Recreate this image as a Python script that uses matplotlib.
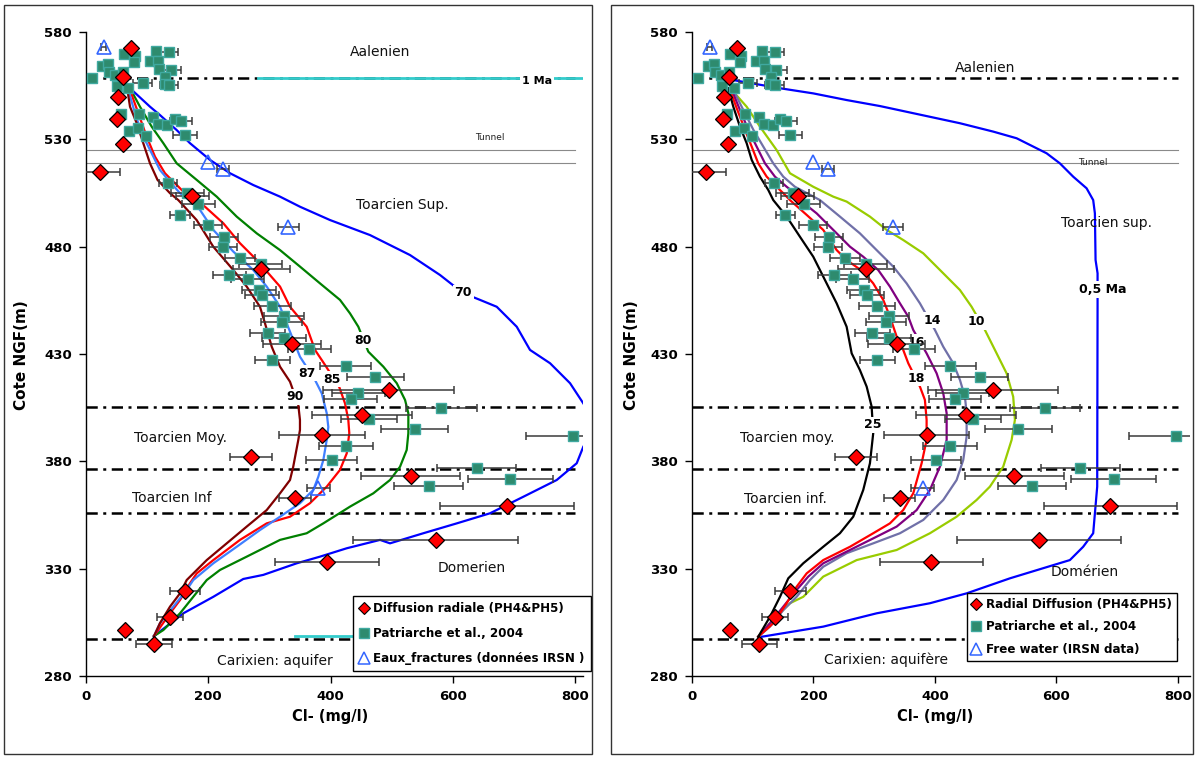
import matplotlib
matplotlib.use('Agg')
import matplotlib.pyplot as plt
from matplotlib.patches import Rectangle
from matplotlib.lines import Line2D

plt.rcParams['font.family'] = ['DejaVu Sans']

# ---------------- data (shared measurements) ----------------
diam_x = [74, 61, 53, 51, 60, 23, 174, 287, 337, 495, 451, 386.5, 270, 531, 342, 689, 572, 394, 162, 137, 63, 111]
diam_y = [572.5, 559, 549.5, 539.3, 527.8, 515, 503.5, 469.8, 434.7, 413, 401.7, 392.2, 382.2, 373, 363.1, 359.1, 343.2, 333.3, 319.7, 307.4, 301.4, 294.8]
diam_err = [0, 0, 0, 0, 0, 33, 27, 46, 47, 107, 82, 70, 34, 81, 26, 110, 135, 85, 25, 21, 0, 29]

sq_x = [10.5, 26, 36, 38, 48, 50, 61, 62, 69, 80, 78.5, 92.7, 105, 114.5, 118, 119.5, 136, 139, 130, 129, 136,
        58, 87, 110, 118.5, 133, 145, 155, 162, 70, 85.6, 98,
        134.5, 165.7, 183.7, 153.8, 200, 226, 224.6, 252, 286, 234, 264.5, 283, 287.4, 305, 324.4, 320, 297,
        324.4, 365.6, 305, 425, 473.5, 445.5, 432.7, 581, 462.5, 537.5, 797, 425, 401.6, 639, 694.4, 560.4]
sq_y = [558.4, 564, 565, 561.3, 560, 555, 561.5, 569.6, 553.7, 568.8, 565.9, 556.3, 566.6, 571, 566.6, 562.6, 570.8, 562.3, 559.2, 555.6, 555.5,
        542, 542, 540.6, 537, 536.7, 539.5, 538.6, 532.2, 534, 535.4, 531.5,
        509.6, 505, 500, 494.8, 490, 484.6, 480, 474.6, 471.8, 467, 465, 459.8, 457.5, 452.4, 447.7, 445, 440,
        437.3, 432.2, 427.2, 424.4, 419.5, 412, 409.2, 404.8, 399.5, 394.9, 391.9, 387, 380.8, 376.7, 372, 368.7]
sq_err = [0, 0, 0, 0, 0, 0, 0, 0, 0, 0, 0, 15, 0, 0, 0, 0, 15, 17, 0, 0, 15,
          0, 0, 0, 0, 0, 0, 18, 19, 0, 0, 0,
          15, 27, 27, 16, 23, 23, 23, 25, 35, 27, 27, 27, 28, 30, 33, 33, 29,
          36, 35, 29, 42, 47, 43, 43, 58, 46, 55, 77, 44, 41, 65, 70, 56]

tri_x = [29, 199, 224.5, 331, 380]
tri_y = [573, 519.4, 516.4, 489.3, 367.5]
tri_err = [4, 0, 10, 17, 19]

# horizontal markers
layer_bounds = [558.5, 405.2, 376.4, 356.1, 297.4]
tunnel_levels = [524.8, 519.2]

# ---------------- left panel curves ----------------
c90_x = [67, 72, 83, 93.7, 104.7, 117, 137.4, 151, 181, 208.2, 241, 262.9, 284.6, 292.8, 303.8, 317.4, 333.7, 347.3, 350, 350,
         347.3, 339, 333.7, 317.4, 295.6, 262.9, 230.2, 197.5, 164.7, 153.8, 137.4, 121, 111.2]
c90_y = [554.4, 545.2, 537.5, 528.2, 518.8, 511.1, 504.9, 501.7, 492.4, 480, 469.1, 461.4, 452, 444.3, 433.4, 424.1, 417.1, 406.2, 399.3, 394.6,
         390, 377.5, 371.3, 365.1, 357.3, 349.6, 341.8, 334, 324.7, 318.5, 312.3, 304.6, 298.6]

c87_x = [69.2, 80.2, 91.1, 107.5, 121, 134.6, 153.8, 170.1, 186.5, 208.3, 241, 273.7, 295.6, 317.4, 328.3, 339.1, 350.1, 374.6, 385.6, 393.8,
         396.4, 393.8, 388.2, 380, 371.8, 350.1, 317.4, 284.6, 246.5, 208.3, 175.5, 164.7, 142.8, 121, 111.2]
c87_y = [553, 542.1, 532.8, 523.5, 515.7, 511.1, 504.9, 501.7, 497.1, 487.8, 477.7, 469.1, 461.4, 452, 444.3, 436.5, 428.7, 417.9, 411.7, 402.4,
         396, 390, 380.6, 372.8, 366.7, 360.5, 354.2, 348, 340.2, 332.5, 324.7, 320.1, 312.3, 304.6, 298.6]

c85_x = [72, 85.6, 99.3, 112.9, 129.2, 145.6, 162, 194.7, 224.6, 251.9, 279.3, 317.4, 333.7, 361, 374.6, 391, 414.4, 423.7, 429.1, 430.7,
         426.5, 415.5, 393.8, 366.4, 333.7, 295.6, 251.9, 208.3, 181.1, 170.1, 153.8, 137.4, 111.2]
c85_y = [553, 542.1, 531.2, 521.9, 514.2, 509.5, 504.9, 498.6, 490.9, 481.6, 473.8, 461.4, 452, 442.7, 431.9, 424.9, 414.5, 407, 399.3, 393.1,
         383.7, 376, 368.2, 360.5, 354.2, 351.1, 343.4, 334, 327.8, 323.2, 315.4, 309.2, 298.6]

c80_x = [72, 88.3, 107.5, 126.5, 148.4, 181.1, 213.8, 246.5, 279.3, 317.4, 350.1, 382.8, 415.5, 431.9, 445.5, 461.8, 486.4, 508.3, 521.9, 527.3,
         527.3, 524.6, 513.7, 497.3, 470, 431.9, 388.2, 361, 317.4, 262.9, 219.2, 197.5, 175.5, 153.8, 126.5, 111.2]
c80_y = [553.8, 545.2, 535.9, 528.2, 518.8, 511.1, 503.3, 494, 486.2, 478.4, 470.7, 462.9, 455.2, 448.9, 442.7, 431.1, 424.1, 416.4, 408.6, 402.4,
         393.1, 385.3, 377.5, 371.3, 365.1, 358.9, 351.1, 346.5, 343.4, 335.6, 329.4, 324.7, 316.9, 309.2, 301.4, 298.6]

c70_x = [72, 104.7, 121, 148.4, 170.1, 202.9, 235.6, 273.7, 317.4, 350.1, 399.2, 464.6, 530, 579.1, 616.7, 644.6, 671.9, 704.6, 726.3, 759.1,
         791.8, 813.5, 835, 813.5, 802.7, 770, 715.4, 660.9, 606.5, 551.8, 497.3, 481, 426.5, 382.8, 344.7, 290, 257.3, 208.3, 159.2, 111.2]
c70_y = [553.8, 545.2, 541.3, 534.3, 528.2, 520.4, 514.2, 508.7, 503.3, 498.6, 492.4, 485.4, 476.1, 466.8, 458.4, 455.2, 452, 442.7, 431.9, 425.7,
         416.4, 407, 397, 386.8, 379.1, 371.3, 363.5, 355.8, 351.1, 346.5, 341.8, 343.4, 339.5, 335.6, 332.5, 327.1, 325.2, 316.9, 309.2, 298.6]

ma1_x = [281, 840, 840, 342]
ma1_y = [558.6, 558.6, 298.6, 298.6]

# ---------------- right panel curves ----------------
c25_x = [59.8, 68, 79, 90, 98.3, 111.9, 125.6, 133.8, 155.9, 177.8, 199.7, 221.7, 238.2, 254.6, 262.9, 276.5, 287.6, 295.8, 298.4,
         293, 282, 265.5, 243.6, 216.1, 183.2, 158.5, 144.9, 128.4, 109.1]
c25_y = [553.8, 545.2, 535.9, 528.2, 520.4, 512.6, 506.4, 501.7, 494, 484.6, 475.3, 462.9, 453.6, 442.7, 430.3, 422.5, 414.8, 405.5, 393.1,
         379.1, 366.7, 354.2, 346.5, 340.2, 332.5, 325.5, 316.9, 307.6, 298.3]

c18_x = [62.6, 73.6, 87.2, 98.3, 109.1, 123, 139.4, 153.1, 161.3, 188.8, 216.1, 238.2, 254.6, 282, 298.4, 314.9, 325.9, 337, 347.8, 356.1,
         375.3, 383.5, 386.3, 386.3, 378.1, 364.3, 347.8, 325.9, 298.4, 260.1, 216.1, 188.8, 172.3, 155.9, 133.8, 109.1]
c18_y = [553, 544.5, 534.5, 526.6, 518.8, 512.6, 507.9, 504.1, 501.7, 494.8, 487.8, 478.4, 473.8, 468.3, 462.9, 455.2, 447.4, 438.1, 431.9, 425.7,
         414.8, 408.6, 399.3, 390, 379.1, 365.1, 357.3, 351.1, 346.5, 340.2, 334, 327.8, 321.6, 313.9, 304.6, 298.3]

c16_x = [65.4, 79, 92.7, 106.5, 120.2, 136.6, 155.9, 169.5, 177.8, 205.3, 232.6, 260.1, 282, 306.7, 325.9, 342.4, 356.1, 364.3, 386.3, 402.8,
         413.7, 419.3, 419.3, 408.2, 391.8, 369.9, 337, 304, 260.1, 216.1, 191.4, 172.3, 150.3, 128.4, 109.1]
c16_y = [553, 543.7, 534.5, 526.6, 518.8, 512.6, 507.9, 504.9, 501.7, 495.5, 487.8, 480, 475.3, 469.1, 461.4, 453.6, 447.4, 441.2, 430.3, 421,
         411.7, 402.4, 390, 377.5, 366.7, 357.3, 349.6, 344.9, 338.7, 332.5, 326.3, 320.1, 312.3, 304.6, 298.3]

c14_x = [68, 84.4, 100.9, 117.4, 133.8, 150.3, 169.5, 210.7, 243.6, 276.5, 304, 331.4, 353.4, 375.3, 400, 413.7, 430.1, 441.2, 449.4, 452.2,
         452.2, 446.6, 435.7, 413.7, 380.8, 342.4, 298.4, 254.6, 216.1, 194.2, 172.3, 150.3, 128.4, 109.1]
c14_y = [553, 543.7, 534.5, 526.6, 518.8, 512.6, 507.9, 501.7, 494, 486.2, 478.4, 470.7, 462.9, 453.6, 441.2, 433.4, 425.7, 417.9, 410.1, 402.4,
         391.5, 380.6, 371.3, 362, 352.7, 346.5, 341.8, 337.2, 330.9, 324.7, 316.9, 310.7, 303, 298.3]

c10_x = [68, 90, 111.9, 139.4, 161.3, 199.7, 232.6, 254.6, 293, 320.5, 347.8, 380.8, 413.7, 441.2, 460.4, 482.3, 501.6, 518, 528.9, 531.7,
         526.3, 512.4, 490.5, 468.6, 435.7, 391.8, 337, 271.1, 216.1, 183.2, 161.3, 128.4, 109.1]
c10_y = [552.2, 545.2, 535.9, 525, 514.2, 507.9, 503.3, 501, 494, 487.8, 483.1, 476.9, 467.6, 459.8, 452, 441.2, 430.3, 421, 410.1, 399.3,
         390, 377.5, 368.2, 362, 354.2, 346.5, 338.7, 334, 326.3, 316.9, 313.9, 304.6, 298.3]

ma05_x = [60, 68, 144.9, 199.7, 254.6, 309.5, 441.2, 496, 534.5, 583.9, 605.8, 627.7, 649.7, 660.6, 663.4, 664.5, 667.8, 667.8, 667.2,
          660.6, 644.1, 622.2, 523.5, 452.2, 391.8, 304, 216.1, 115]
ma05_y = [558, 557.6, 553.8, 551.4, 548.3, 545.5, 537.5, 533.6, 530.5, 523.5, 518.8, 512.6, 507.2, 501.7, 495.5, 473.8, 467.6, 452, 368.2,
          346.5, 340.2, 334, 325.5, 318.5, 313.9, 309.2, 303, 298.3]

x_ticks = [0, 200, 400, 600, 800]
y_ticks = [280, 330, 380, 430, 480, 530, 580]

# ---------------- figure ----------------
W, H = 1197, 758
fig = plt.figure(figsize=(W / 100, H / 100), dpi=100)


def px_rect(x0, y0, x1, y1):
    return [x0 / W, 1 - y1 / H, (x1 - x0) / W, (y1 - y0) / H]


# panel frames
for (x0, x1) in [(4, 592), (611, 1193)]:
    fig.add_artist(Rectangle((x0 / W, 4 / H), (x1 - x0) / W, (753 - 4) / H,
                             transform=fig.transFigure, fill=False, edgecolor='#333333', lw=1.0))

ax1 = fig.add_axes(px_rect(86, 32, 583, 676))
ax2 = fig.add_axes(px_rect(692, 32, 1190, 676))

SQ_FACE = '#2E8B6E'
SQ_EDGE = '#3FA9A0'
DASH = (0, (4.5, 2.2, 1.2, 2.2))


def setup(ax, xmax):
    ax.set_xlim(0, xmax)
    ax.set_ylim(280, 580)
    for s in ['top', 'right']:
        ax.spines[s].set_visible(False)
    for s in ['left', 'bottom']:
        ax.spines[s].set_linewidth(1.0)
    ax.set_xticks(x_ticks)
    ax.set_yticks(y_ticks)
    ax.tick_params(direction='out', length=5, width=1, labelsize=9.5, pad=5)
    for lab in ax.get_xticklabels() + ax.get_yticklabels():
        lab.set_fontweight('bold')
    ax.patch.set_alpha(0)
    for yv in layer_bounds:
        ax.plot([0, 800], [yv, yv], color='black', lw=1.8, ls=DASH, zorder=2)
    for yv in tunnel_levels:
        ax.plot([0, 800], [yv, yv], color='#8a8a8a', lw=0.8, zorder=2)


def data_points(ax):
    ex = [(x, y, e) for x, y, e in zip(diam_x, diam_y, diam_err) if e > 0]
    ax.errorbar([a[0] for a in ex], [a[1] for a in ex], xerr=[a[2] for a in ex], fmt='none',
                ecolor='#3a3a3a', elinewidth=1.1, capsize=3, capthick=1.1, zorder=5)
    ex = [(x, y, e) for x, y, e in zip(sq_x, sq_y, sq_err) if e > 0]
    ax.errorbar([a[0] for a in ex], [a[1] for a in ex], xerr=[a[2] for a in ex], fmt='none',
                ecolor='#3a3a3a', elinewidth=1.1, capsize=3, capthick=1.1, zorder=5)
    ex = [(x, y, e) for x, y, e in zip(tri_x, tri_y, tri_err) if e > 0]
    ax.errorbar([a[0] for a in ex], [a[1] for a in ex], xerr=[a[2] for a in ex], fmt='none',
                ecolor='#3a3a3a', elinewidth=1.1, capsize=3, capthick=1.1, zorder=5)
    ax.plot(sq_x, sq_y, ls='none', marker='s', ms=7.3, mfc=SQ_FACE, mec=SQ_EDGE, mew=1, zorder=6)
    ax.plot(tri_x, tri_y, ls='none', marker='^', ms=10, mfc='none', mec='#3366FF', mew=1.2, zorder=6)
    ax.plot(diam_x, diam_y, ls='none', marker='D', ms=8.5, mfc='#FF0000', mec='black', mew=0.9, zorder=7)


def curve_label(ax, x, y, s):
    ax.text(x, y, s, fontsize=9, fontweight='bold', ha='center', va='center', zorder=4,
            bbox=dict(facecolor='white', edgecolor='none', pad=1.2))


def region(ax, x, y, s, size=10):
    ax.text(x, y, s, fontsize=size, ha='center', va='center', color='#111111', zorder=4)


legend_handles = [
    Line2D([], [], ls='none', marker='D', ms=6, mfc='#FF0000', mec='black', mew=0.8),
    Line2D([], [], ls='none', marker='s', ms=7, mfc=SQ_FACE, mec=SQ_EDGE, mew=1),
    Line2D([], [], ls='none', marker='^', ms=8, mfc='none', mec='#3366FF', mew=1.1),
]

# ---------------- left panel ----------------
setup(ax1, 813)
ax1.plot(ma1_x, ma1_y, color='#33CCCC', lw=2, zorder=2.5)
ax1.plot(c70_x, c70_y, color='#0000FF', lw=1.6, zorder=3)
ax1.plot(c80_x, c80_y, color='#008000', lw=1.6, zorder=3)
ax1.plot(c85_x, c85_y, color='#FF0000', lw=1.6, zorder=3)
ax1.plot(c87_x, c87_y, color='#3F7FFF', lw=1.6, zorder=3)
ax1.plot(c90_x, c90_y, color='#800000', lw=1.6, zorder=3)
curve_label(ax1, 617, 458.5, '70')
curve_label(ax1, 453, 436.5, '80')
curve_label(ax1, 361, 421, '87')
curve_label(ax1, 402, 418.3, '85')
curve_label(ax1, 342, 410, '90')
ax1.text(738, 557.3, '1 Ma', fontsize=8, fontweight='bold', ha='center', va='center', zorder=4,
         bbox=dict(facecolor='white', edgecolor='none', pad=1.5))
ax1.text(661, 530.8, 'Tunnel', fontsize=6.5, ha='center', va='center', color='#222222')
region(ax1, 481, 570.6, 'Aalenien')
region(ax1, 517, 499.4, 'Toarcien Sup.')
region(ax1, 155, 391, 'Toarcien Moy.')
region(ax1, 140, 363, 'Toarcien Inf')
region(ax1, 631, 330.3, 'Domerien')
region(ax1, 309, 287, 'Carixien: aquifer')
data_points(ax1)
leg1 = ax1.legend(legend_handles, ['Diffusion radiale (PH4&PH5)', 'Patriarche et al., 2004',
                                   'Eaux_fractures (données IRSN )'],
                  loc='upper left', bbox_to_anchor=(0.537, 0.1245), borderaxespad=0,
                  prop={'size': 8.6, 'weight': 'bold'}, fancybox=False, framealpha=1,
                  edgecolor='black', handlelength=0.8, handletextpad=0.4, borderpad=0.5,
                  labelspacing=1.0)
leg1.get_frame().set_linewidth(1.0)
leg1.set_zorder(10)

# ---------------- right panel ----------------
setup(ax2, 820)
ax2.plot(ma05_x, ma05_y, color='#0000FF', lw=1.6, zorder=3)
ax2.plot(c10_x, c10_y, color='#99CC00', lw=1.6, zorder=3)
ax2.plot(c14_x, c14_y, color='#7070A8', lw=1.6, zorder=3)
ax2.plot(c16_x, c16_y, color='#800080', lw=1.6, zorder=3)
ax2.plot(c18_x, c18_y, color='#FF0000', lw=1.6, zorder=3)
ax2.plot(c25_x, c25_y, color='#000000', lw=1.6, zorder=3)
curve_label(ax2, 677, 460, '0,5 Ma')
curve_label(ax2, 395.5, 445.8, '14')
curve_label(ax2, 468.6, 445, '10')
curve_label(ax2, 370, 435.5, '16')
curve_label(ax2, 370, 418.7, '18')
curve_label(ax2, 297.5, 397, '25')
ax2.text(660, 519.3, 'Tunnel', fontsize=6.5, ha='center', va='center', color='#222222')
region(ax2, 482, 563.2, 'Aalenien')
region(ax2, 682.6, 491, 'Toarcien sup.')
region(ax2, 156.4, 390.7, 'Toarcien moy.')
region(ax2, 153.6, 362.5, 'Toarcien inf.')
region(ax2, 647, 328.5, 'Domérien')
region(ax2, 319, 287.5, 'Carixien: aquifère')
data_points(ax2)
leg2 = ax2.legend(legend_handles, ['Radial Diffusion (PH4&PH5)', 'Patriarche et al., 2004',
                                   'Free water (IRSN data)'],
                  loc='upper left', bbox_to_anchor=(0.552, 0.1289), borderaxespad=0,
                  prop={'size': 8.6, 'weight': 'bold'}, fancybox=False, framealpha=1,
                  edgecolor='black', handlelength=0.8, handletextpad=0.4, borderpad=0.4,
                  labelspacing=0.8)
leg2.get_frame().set_linewidth(1.0)
leg2.set_zorder(10)

# axis titles
for cx in [22 / W, 632 / W]:
    fig.text(cx, 1 - 355 / H, 'Cote NGF(m)', rotation=90, fontsize=11, fontweight='bold',
             ha='center', va='center')
for cx in [330 / W, 935 / W]:
    fig.text(cx, 1 - 716 / H, 'Cl- (mg/l)', fontsize=10.5, fontweight='bold', ha='center', va='center')

fig.savefig('out.png', dpi=100)
